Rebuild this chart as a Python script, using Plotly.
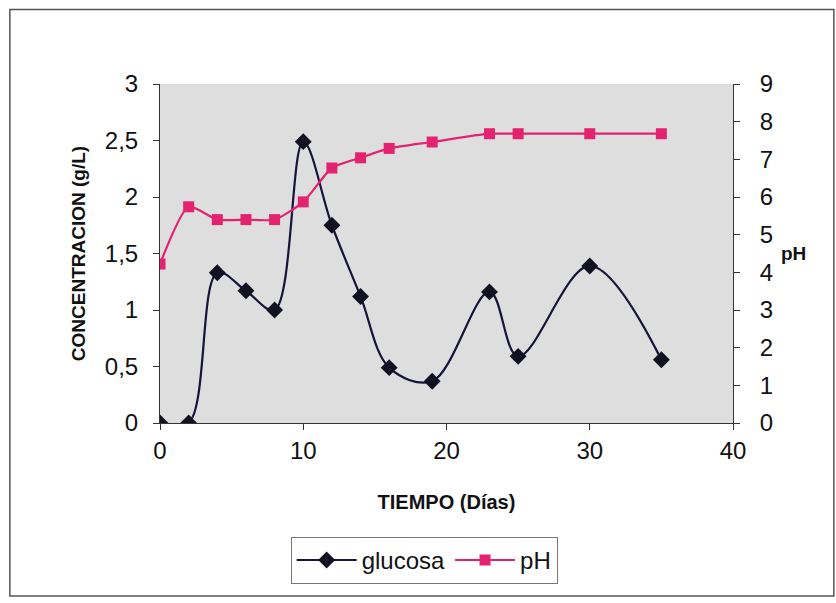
import plotly.graph_objects as go

dias_glucosa = [0, 2, 4, 6, 8, 10, 12, 14, 16, 19, 23, 25, 30, 35]
glucosa = [0, 0, 1.33, 1.17, 1.0, 2.49, 1.75, 1.12, 0.49, 0.37, 1.16, 0.59, 1.39, 0.56]
dias_ph = [0, 2, 4, 6, 8, 10, 12, 14, 16, 19, 23, 25, 30, 35]
ph = [4.22, 5.74, 5.40, 5.40, 5.40, 5.87, 6.77, 7.04, 7.29, 7.46, 7.68, 7.68, 7.68, 7.68]

x_ticks = [0, 10, 20, 30, 40]
y_ticks = [0, 0.5, 1, 1.5, 2, 2.5, 3]
y_ticktext = ["0", "0,5", "1", "1,5", "2", "2,5", "3"]
y2_ticks = [0, 1, 2, 3, 4, 5, 6, 7, 8, 9]

FONT = "Liberation Sans, Arial, sans-serif"

fig = go.Figure()
fig.add_trace(go.Scatter(
    x=dias_glucosa, y=glucosa, name="glucosa", mode="lines+markers",
    line=dict(color="#14143c", width=2.2, shape="spline", smoothing=1.0),
    marker=dict(symbol="diamond", size=13, color="#111122"),
))
fig.add_trace(go.Scatter(
    x=dias_ph, y=ph, name="pH", mode="lines+markers", yaxis="y2",
    line=dict(color="#e3236f", width=2.2, shape="spline", smoothing=0.6),
    marker=dict(symbol="square", size=11, color="#e3236f"),
))

fig.update_layout(
    width=836, height=603,
    margin=dict(l=160, r=103, t=84, b=180),
    paper_bgcolor="white",
    plot_bgcolor="#dedede",
    font=dict(family=FONT, color="#111111", size=24),
    showlegend=True,
    legend=dict(
        orientation="h", x=0.461, xanchor="center", y=-0.336, yanchor="top",
        bordercolor="#777777", borderwidth=1, bgcolor="white",
        font=dict(size=24, family=FONT), itemwidth=60,
    ),
    xaxis=dict(
        range=[0, 40], tickvals=x_ticks, showgrid=False, zeroline=False,
        showline=True, linecolor="#333333", linewidth=1,
        ticks="outside", ticklen=6, tickcolor="#333333",
        title=dict(text="<b>TIEMPO (Días)</b>", font=dict(size=20, family=FONT), standoff=32),
        tickfont=dict(size=24),
    ),
    yaxis=dict(
        range=[0, 3], tickvals=y_ticks, ticktext=y_ticktext, showgrid=False, zeroline=False,
        showline=True, linecolor="#333333", linewidth=1,
        ticks="outside", ticklen=6, tickcolor="#333333", ticklabelstandoff=10,
        title=dict(text="<b>CONCENTRACION (g/L)</b>", font=dict(size=19, family=FONT), standoff=14),
        tickfont=dict(size=24),
    ),
    yaxis2=dict(
        range=[0, 9], tickvals=y2_ticks, overlaying="y", side="right",
        showgrid=False, zeroline=False,
        showline=True, linecolor="#333333", linewidth=1,
        ticks="outside", ticklen=6, tickcolor="#333333", ticklabelstandoff=15,
        tickfont=dict(size=24),
    ),
    annotations=[
        dict(text="<b>pH</b>", xref="paper", yref="paper", x=1.106, y=0.5,
             xanchor="center", yanchor="middle", showarrow=False,
             font=dict(size=19, family=FONT)),
    ],
    shapes=[
        dict(type="rect", xref="paper", yref="paper",
             x0=-0.262, x1=1.176, y0=-0.51, y1=1.22,
             line=dict(color="#555555", width=1.5)),
    ],
)

fig.write_html("out.html")
